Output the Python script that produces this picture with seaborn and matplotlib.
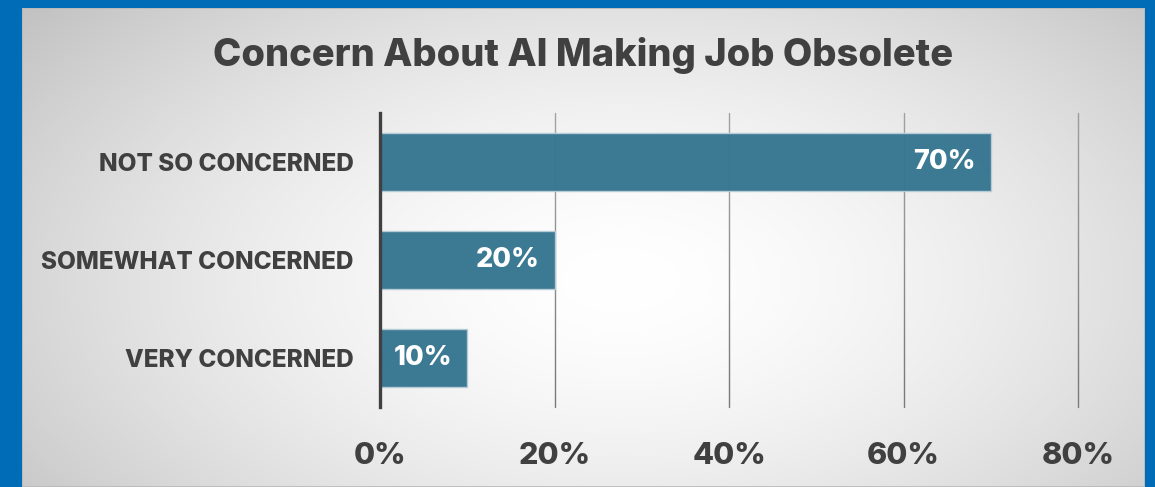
import numpy as np
import matplotlib
matplotlib.use("Agg")
import matplotlib.pyplot as plt
import seaborn as sns

# Survey data
categories = ["NOT SO CONCERNED", "SOMEWHAT CONCERNED", "VERY CONCERNED"]
shares = [70, 20, 10]
x_ticks = [0, 20, 40, 60, 80]
title = "Concern About AI Making Job Obsolete"

W, H = 1155, 487
DPI = 100
FRAME = "#006CB8"
BAR = "#367590"
TEXT = "#404040"
FONT = "Inter"
WEIGHT = 800

sns.set_theme(style="white")
plt.rcParams["font.family"] = [FONT, "DejaVu Sans"]
plt.rcParams["font.weight"] = "bold"

fig = plt.figure(figsize=(W / DPI, H / DPI), dpi=DPI, facecolor=FRAME)

# Panel geometry (pixels, from top-left)
px0, px1, py0, py1 = 22, 1145, 8, 487


def panel_shade(xs, ys):
    """Radial white-to-grey shading of the panel, in pixel coordinates."""
    cx, cy, rx, ry = 620, 280, 760, 420
    X, Y = np.meshgrid(xs, ys)
    r = np.sqrt(((X - cx) / rx) ** 2 + ((Y - cy) / ry) ** 2)
    return 255 - 60 * np.clip(r, 0, 1) ** 1.6


# Background panel
bg_ax = fig.add_axes([px0 / W, 1 - py1 / H, (px1 - px0) / W, (py1 - py0) / H], zorder=-10)
xs = np.arange(px0, px1)
ys = np.arange(py0, py1)
shade = panel_shade(xs, ys) / 255.0
bg_ax.imshow(np.dstack([shade] * 3), aspect="auto", interpolation="bilinear",
             extent=[0, 1, 0, 1], origin="upper")
bg_ax.set_axis_off()
bg_ax.add_patch(plt.Rectangle((0, 0), 1, 1, transform=bg_ax.transAxes, fill=False,
                              edgecolor="#b8b8b8", lw=1.2))

# Plot area (pixels)
ax_l, ax_r, ax_t, ax_b = 380, 1078, 113, 407
ax = fig.add_axes([ax_l / W, 1 - ax_b / H, (ax_r - ax_l) / W, (ax_b - ax_t) / H])
ax.set_facecolor("none")

sns.barplot(x=shares, y=categories, orient="h", color=BAR, saturation=1,
            width=0.6, alpha=0.97, edgecolor="#b7cdd8", linewidth=1.0, ax=ax)

ax.set_xlim(0, 80)
ax.set_xticks(x_ticks)
ax.set_xticklabels([f"{t}%" for t in x_ticks])
ax.grid(axis="x", color="#7a7a7a", lw=1.0)
ax.grid(axis="y", visible=False)
ax.set_axisbelow(True)
for gl in ax.xaxis.get_gridlines():
    gl.set_clip_on(False)

# Gridlines fade slightly towards the top of the plot area
gx = np.arange(ax_l, ax_r + 2)
gy = np.arange(ax_t, ax_b)
inner = panel_shade(gx, gy) / 255.0
fade = np.clip(0.36 - (gy - ax_t) * 0.0013, 0.0, 0.9)[:, None] * np.ones_like(inner)
ax.imshow(np.dstack([inner, inner, inner, fade]), aspect="auto", interpolation="bilinear",
          extent=[0, (ax_r + 2 - ax_l) / (ax_r - ax_l), 0, 1], origin="upper",
          transform=ax.transAxes, zorder=0.8, clip_on=False)
ax.set_xlim(0, 80)
ax.set_ylim(2.5, -0.5)

for s in ("top", "right", "bottom"):
    ax.spines[s].set_visible(False)
ax.spines["left"].set_color(TEXT)
ax.spines["left"].set_linewidth(2.4)
ax.spines["left"].set_zorder(5)

ax.tick_params(axis="both", length=0)
ax.tick_params(axis="y", pad=19, labelsize=17.5, labelcolor=TEXT)
ax.tick_params(axis="x", pad=25, labelsize=22, labelcolor=TEXT)
for lbl in ax.get_xticklabels() + ax.get_yticklabels():
    lbl.set_fontweight(WEIGHT)
ax.set_xlabel("")
ax.set_ylabel("")

# Value labels inside the bar ends
for i, v in enumerate(shares):
    ax.annotate(f"{v}%", xy=(v, i), xytext=(-15, 0), textcoords="offset pixels",
                ha="right", va="center", color="white", fontsize=19.5,
                fontweight=WEIGHT, zorder=6)

fig.text((px0 + px1) / 2 / W, 1 - 55 / H, title, ha="center", va="center",
         fontsize=27.4, fontweight=WEIGHT, color=TEXT)

fig.savefig("out.png", dpi=DPI, facecolor=FRAME)
